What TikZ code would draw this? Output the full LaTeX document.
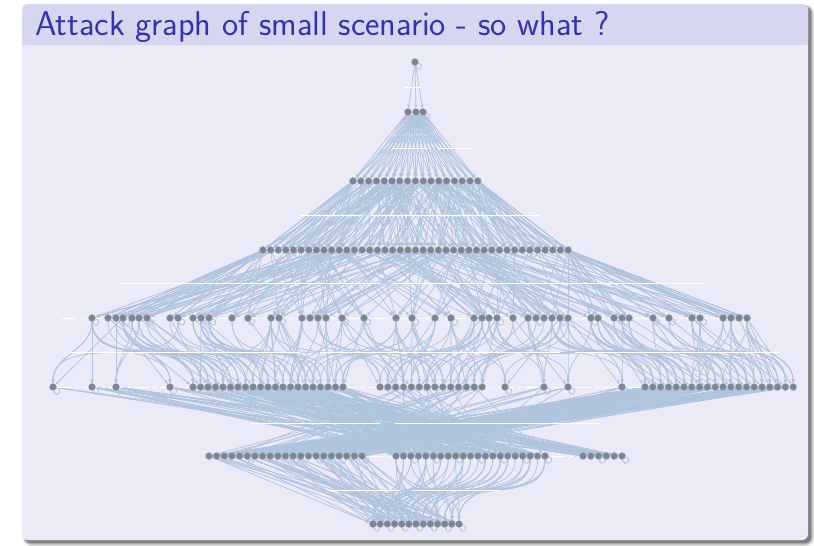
\documentclass[tikz,border=0pt]{standalone}
\usepackage{fontspec}
\usetikzlibrary{arrows.meta}
\definecolor{titlefg}{rgb}{0.2,0.2,0.7}
\definecolor{titlebg}{rgb}{0.84,0.84,0.94}
\definecolor{bodybg}{rgb}{0.92,0.92,0.97}
\definecolor{edgecol}{HTML}{B0C4DE}
\definecolor{nodecol}{HTML}{7A8793}
\pgfdeclarelayer{back}
\pgfdeclarelayer{edgelayer}
\pgfsetlayers{back,edgelayer,main}
\tikzset{
  gnode/.style={circle,fill=nodecol,draw=nodecol!70!white,line width=0.4pt,inner sep=0pt,minimum size=7pt},
  edge/.style={draw=edgecol,line width=0.75pt,-{Stealth[length=4pt,width=3.2pt]}},
  loopedge/.style={draw=edgecol,line width=0.75pt,-{Stealth[length=2.5pt,width=2.5pt]}},
  gap/.style={draw=white,line width=0.6pt},
  rowgap/.style={draw=white,line width=0.7pt,dash pattern=on 14pt off 5pt on 3pt off 4pt}
}
\begin{document}
\begin{tikzpicture}[x=1pt,y=-1pt]
\useasboundingbox (0,0) rectangle (814,546);
\pgfmathsetseed{11}
\begin{pgfonlayer}{back}
  \fill[white] (0,0) rectangle (814,546);
  \fill[black!12, rounded corners=8pt] (23,5) rectangle (814,546);
  \fill[black!30, rounded corners=7pt] (24,6) rectangle (812.5,544.5);
  \fill[black!50, rounded corners=6pt] (25,7) rectangle (811,543);
  \fill[bodybg, rounded corners=6pt] (22,4) rectangle (808,540);
  \fill[titlebg, rounded corners=6pt] (22,4) rectangle (808,45);
  \fill[titlebg] (22,30) rectangle (808,45);
\end{pgfonlayer}
\node[anchor=base west,text=titlefg,font=\sffamily\fontsize{34.4}{38}\selectfont,inner sep=0pt] (title) at (35,35) {Attack graph of small scenario - so what ?};

% ---------------- nodes ----------------
\node[gnode] (a1) at (415,62) {};
\foreach \x [count=\i] in {408,416,423} \node[gnode] (b\i) at (\x,112) {};
\foreach \i in {1,...,17} \node[gnode] (c\i) at ({353+7.8*(\i-1)},181) {};
\foreach \i in {1,...,41} \node[gnode] (d\i) at ({263+7.625*(\i-1)},250) {};
\foreach \x [count=\i] in {92,108,116,123,132,139,147,170,178,193,201,209,232,248,271,279,302,310,318,326,342,364,396,412,435,451,474,482,489,497,513,528,536,544,552,560,568,591,598,614,622,629,653,669,692,700,723,731,739,747}
  \node[gnode] (e\i) at (\x,318) {};
\foreach \x [count=\i] in {53,92,116,170} \node[gnode] (f\i) at (\x,387) {};
\foreach \i in {5,...,25} \node[gnode] (f\i) at ({193+7.5*(\i-5)},387) {};
\foreach \i in {26,...,39} \node[gnode] (f\i) at ({380+7.85*(\i-26)},387) {};
\foreach \x [count=\k] in {505,544,568,622} {\pgfmathtruncatemacro\i{39+\k}\node[gnode] (f\i) at (\x,387) {};}
\foreach \i in {44,...,63} \node[gnode] (f\i) at ({645+7.8*(\i-44)},387) {};
\foreach \i in {1,...,21} \node[gnode] (g\i) at ({209+7.65*(\i-1)},456) {};
\foreach \i in {22,...,42} \node[gnode] (g\i) at ({396+7.45*(\i-22)},456) {};
\foreach \i in {43,...,48} \node[gnode] (g\i) at ({583+7.8*(\i-43)},456) {};
\foreach \i in {1,...,13} \node[gnode] (h\i) at ({373+7.17*(\i-1)},524) {};

% ---------------- edges ----------------
\begin{pgfonlayer}{edgelayer}
\foreach \j in {1,2,3} \draw[edge] (a1) -- (b\j);
\foreach \i in {1,2,3} \foreach \j in {1,...,17} \draw[edge] (b\i) -- (c\j);
\foreach \j in {1,...,41}{
  \foreach \k in {1,...,5}{
    \pgfmathtruncatemacro\s{max(1,min(17,round(1+(\j-1)*16/40+5*rand)))}
    \draw[edge] (c\s) -- (d\j);
  }
}
\foreach \j in {1,...,50}{
  \foreach \k in {1,...,5}{
    \pgfmathtruncatemacro\s{max(1,min(41,round(1+(\j-1)*40/49+13*rand)))}
    \draw[edge] (d\s) -- (e\j);
  }
}
\foreach \j in {1,...,63}{
  \foreach \k in {1,2,3}{
    \pgfmathtruncatemacro\s{max(1,min(50,round(1+(\j-1)*49/62+8*rand)))}
    \draw[edge] (e\s) to[out=-90,in=90] (f\j);
  }
  \pgfmathtruncatemacro\s{max(1,min(50,round(1+(\j-1)*49/62+4*rand)))}
  \draw[edge] (e\s) -- (f\j);
}
\foreach \j in {1,...,21}{
  \foreach \k in {1,...,5}{
    \pgfmathrandominteger{\s}{44}{63}
    \draw[edge] (f\s) -- (g\j);
  }
  \pgfmathrandominteger{\s}{26}{43}
  \draw[edge] (f\s) -- (g\j);
}
\foreach \j in {22,...,42}{
  \foreach \k in {1,...,5}{
    \pgfmathrandominteger{\s}{1}{25}
    \draw[edge] (f\s) -- (g\j);
  }
  \pgfmathrandominteger{\s}{26}{43}
  \draw[edge] (f\s) -- (g\j);
}
\foreach \j in {43,...,48}{
  \foreach \k in {1,...,6}{
    \pgfmathrandominteger{\s}{1}{25}
    \draw[edge] (f\s) -- (g\j);
  }
}
\foreach \j in {1,...,13}{
  \foreach \k in {1,...,4}{
    \pgfmathrandominteger{\s}{1}{21}
    \draw[edge] (g\s) -- (h\j);
    \pgfmathrandominteger{\t}{22}{42}
    \draw[edge] (g\t) to[out=-90,in=90] (h\j);
  }
}
% self loops
\foreach \n in {a1,b3,c3,c9,c10,c12,d5,d12,d20,d24,d30,d36,e1,e4,e7,e9,e12,e14,e16,e21,e22,e24,e26,e30,e33,e36,e38,e41,e43,e44,e46,f1,f2,f3,f4,f40,f41,f42,f43,g3,g6,g9,g12,g15,g18,g21,g24,g27,g30,g33,g36,g39,g42,g45,g48,h1,h3,h5,h7,h9,h11,h13}
  \draw[loopedge] (\n.-15) .. controls +(-15:8pt) and +(-75:8pt) .. (\n.-75);
% white gaps
\draw[gap] (404,87) -- (421,87);
\draw[gap] (392,148) -- (428,148) (438,148) -- (472,148);
\draw[gap] (300,215) -- (362,215) (372,215) -- (540,215);
\draw[gap] (120,283) -- (380,283) (395,283) -- (705,283);
\draw[gap] (70,352) -- (300,352) (320,352) -- (560,352) (575,352) -- (780,352);
\draw[gap] (250,423) -- (380,423) (395,423) -- (600,423);
\draw[gap] (330,490) -- (400,490) (412,490) -- (500,490);
\draw[rowgap] (c1) -- (c17);
\draw[rowgap] (d1) -- (d41);
\draw[rowgap] ([xshift=-30pt]e1.center) -- (e50);
\draw[rowgap] (f1) -- (f63);
\draw[rowgap] (g1) -- (g48);
\end{pgfonlayer}
\end{tikzpicture}
\end{document}
